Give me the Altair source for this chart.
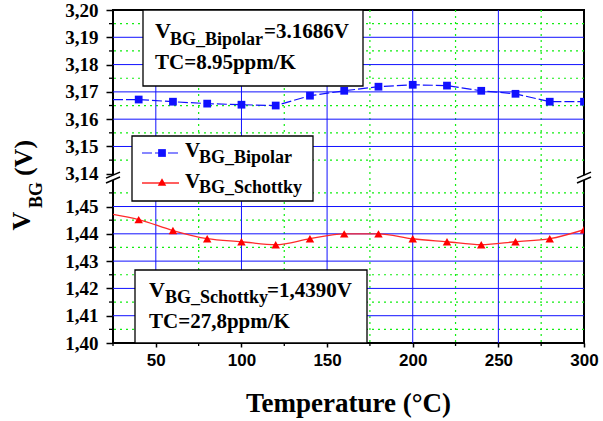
import altair as alt
import pandas as pd

# ---------------- data ----------------
temps = [40, 60, 80, 100, 120, 140, 160, 180, 200, 220, 240, 260, 280, 300]
bipolar = [3.1672, 3.1664, 3.1657, 3.1653, 3.1650, 3.1686, 3.1704, 3.1719,
           3.1726, 3.1723, 3.1704, 3.1693, 3.1664, 3.1664]
schottky = [1.4452, 1.4412, 1.4382, 1.4371, 1.4360, 1.4382, 1.4400, 1.4400,
            1.4382, 1.4371, 1.4360, 1.4371, 1.4382, 1.4415]
edge_T = 25
bipolar_edge = 3.1672
schottky_edge = 1.4471

lower_major = [1.40, 1.41, 1.42, 1.43, 1.44, 1.45]
upper_major = [3.14, 3.15, 3.16, 3.17, 3.18, 3.19, 3.20]
lower_minor = [1.405, 1.415, 1.425, 1.435, 1.445, 1.455]
upper_minor = [3.145, 3.155, 3.165, 3.175, 3.185, 3.195]
lower_grid = [1.41, 1.42, 1.43, 1.44, 1.45]
upper_grid = [3.15, 3.16, 3.17, 3.18, 3.19]
x_major = [50, 100, 150, 200, 250, 300]
x_minor = [25, 75, 125, 175, 225, 275]
x_grid_major = [50, 100, 150, 200, 250]
x_grid_minor = [75, 125, 175, 225, 275]

# broken axis: upper segment shifted down onto a continuous virtual scale
OFFSET = 3.14 - 1.462
BREAK = [1.4597, 1.4615]


def up(v):
    return v - OFFSET


W, H = 471, 333
xs = alt.Scale(domain=[25, 300], nice=False, zero=False)
ys = alt.Scale(domain=[1.40, up(3.20)], nice=False, zero=False)

ymaj = lower_major + [up(v) for v in upper_major]
ymin = lower_minor + [up(v) for v in upper_minor]
ygrid = lower_grid + [up(v) for v in upper_grid]

df_bip = pd.DataFrame({"T": temps, "v": [up(b) for b in bipolar]})
df_bip_line = pd.DataFrame({"T": [edge_T] + temps, "v": [up(bipolar_edge)] + [up(b) for b in bipolar]})
df_sch = pd.DataFrame({"T": temps, "v": schottky})
df_sch_line = pd.DataFrame({"T": [edge_T] + temps, "v": [schottky_edge] + schottky})

BLUE = "#1010ff"
RED = "#ff0000"
GREEN = "#11ee11"
SERIF = "Liberation Serif"

x_axis = alt.Axis(values=x_major, grid=False, domain=False, tickSize=4, tickWidth=1.5,
                  tickColor="black", labelFont="Liberation Sans", labelFontWeight="bold",
                  labelFontSize=17, labelPadding=5, labelColor="black", labelFlush=False,
                  labelOverlap=False, title=None)
y_axis = alt.Axis(values=ymaj, grid=False, domain=False, tickSize=7, tickWidth=1.5,
                  tickColor="black", labelFont=SERIF, labelFontWeight="bold",
                  labelFontSize=19, labelPadding=8, labelColor="black", labelFlush=False,
                  labelOverlap=False,
                  labelExpr="replace(format(datum.value > 1.456 ? datum.value + %f : datum.value, '.2f'), '.', ',')" % OFFSET,
                  title=None)


def X(field="T"):
    return alt.X(field, type="quantitative", scale=xs, axis=x_axis)


def Y(field="v"):
    return alt.Y(field, type="quantitative", scale=ys, axis=y_axis)


empty = alt.Data(values=[{}])


def txt(s, x, y, size, angle=0, font=SERIF):
    return alt.Chart(empty).mark_text(
        text=s, font=font, fontWeight="bold", fontSize=size, align="left" if angle == 0 else "center",
        baseline="alphabetic", angle=angle, color="black"
    ).encode(x=alt.value(x), y=alt.value(y))


def box(x1, x2, y1, y2):
    return alt.Chart(empty).mark_rect(fill="white", stroke="black", strokeWidth=1.3).encode(
        x=alt.value(x1), x2=alt.value(x2), y=alt.value(y1), y2=alt.value(y2))


# grids
vgrid_major = alt.Chart(pd.DataFrame({"T": x_grid_major})).mark_rule(color=BLUE, strokeWidth=1).encode(x=X())
vgrid_minor = alt.Chart(pd.DataFrame({"T": x_grid_minor})).mark_rule(
    color=GREEN, strokeWidth=1.2, strokeDash=[2, 4]).encode(x=X())
hgrid_major = alt.Chart(pd.DataFrame({"v": ygrid})).mark_rule(color=BLUE, strokeWidth=1).encode(y=Y())
hgrid_minor = alt.Chart(pd.DataFrame({"v": ymin})).mark_rule(
    color=GREEN, strokeWidth=1.2, strokeDash=[2, 4]).encode(y=Y())

# minor ticks
y_minor_ticks = alt.Chart(pd.DataFrame({"v": ymin})).mark_rule(color="black", strokeWidth=1.3).encode(
    y=Y(), x=alt.value(-4), x2=alt.value(0))
x_minor_ticks = alt.Chart(pd.DataFrame({"T": x_minor})).mark_rule(color="black", strokeWidth=1.3).encode(
    x=X(), y=alt.value(H), y2=alt.value(H + 3))

# data
bip_line = alt.Chart(df_bip_line).mark_line(color=BLUE, strokeWidth=1.2, strokeDash=[10, 3], clip=True).encode(
    x=X(), y=Y())
bip_pts = alt.Chart(df_bip).mark_point(shape="square", filled=True, size=60, color=BLUE, opacity=1, clip=True).encode(
    x=X(), y=Y())
sch_line = alt.Chart(df_sch_line).mark_line(color="#ff2a2a", strokeWidth=1.3, interpolate="monotone", clip=True).encode(
    x=X(), y=Y())
sch_pts = alt.Chart(df_sch).mark_point(shape="triangle-up", filled=True, size=72, color=RED, opacity=1, clip=True).encode(
    x=X(), y=Y())

# axis break marks
brk_edges = pd.DataFrame({"T": [25, 300], "lo": [BREAK[0]] * 2, "hi": [BREAK[1]] * 2})
brk_white = alt.Chart(brk_edges).mark_rule(color="white", strokeWidth=6).encode(
    x=X(), y=Y("lo"), y2="hi")
brk_slash = alt.Chart(pd.DataFrame({"T": [25, 25, 300, 300], "v": BREAK + BREAK})).mark_rule(
    color="black", strokeWidth=1.6, xOffset=-7, x2Offset=7, yOffset=3, y2Offset=-3).encode(
    x=X(), x2="T", y=Y(), y2="v")

layers = [
    vgrid_minor, hgrid_minor, vgrid_major, hgrid_major,
    bip_line, bip_pts, sch_line, sch_pts,
    y_minor_ticks, x_minor_ticks, brk_white, brk_slash,
    # annotation box 1
    box(30, 250, 0, 76),
    txt("V", 42, 28, 22), txt("BG_Bipolar", 57, 35, 18), txt("=3.1686V", 151, 28, 21),
    txt("TC=8.95ppm/K", 42, 59, 21),
    # legend
    box(19, 200, 126, 191),
    alt.Chart(empty).mark_rule(color=BLUE, strokeWidth=1.2, strokeDash=[10, 3]).encode(
        x=alt.value(29), x2=alt.value(66), y=alt.value(143)),
    alt.Chart(empty).mark_point(shape="square", filled=True, size=60, color=BLUE, opacity=1).encode(
        x=alt.value(49), y=alt.value(143)),
    txt("V", 72, 147, 21), txt("BG_Bipolar", 86, 153, 18),
    alt.Chart(empty).mark_rule(color="#ff2a2a", strokeWidth=1.3).encode(
        x=alt.value(29), x2=alt.value(66), y=alt.value(173)),
    alt.Chart(empty).mark_point(shape="triangle-up", filled=True, size=72, color=RED, opacity=1).encode(
        x=alt.value(49), y=alt.value(172)),
    txt("V", 72, 178, 21), txt("BG_Schottky", 86, 183, 18),
    # annotation box 3
    box(22, 254, 260, 333),
    txt("V", 36, 287, 22), txt("BG_Schottky", 52, 293, 18), txt("=1,4390V", 154, 287, 21),
    txt("TC=27,8ppm/K", 36, 318, 21),
    # axis titles
    alt.Chart(empty).mark_text(text="Temperature (°C)", font=SERIF, fontWeight="bold", fontSize=27,
                               align="center", baseline="alphabetic", color="black").encode(
        x=alt.value(W / 2), y=alt.value(402)),
    txt("V", -83, 211, 26, angle=270),
    txt("BG", -71, 185, 18, angle=270),
    txt("(V)", -81, 148, 26, angle=270),
]

chart = alt.layer(*layers).properties(
    width=W, height=H,
    autosize=alt.AutoSizeParams(type="none"),
    padding={"left": 113, "top": 10, "right": 19, "bottom": 78},
    background="white",
).configure_view(stroke="black", strokeWidth=2)

chart.save("out.html", embed_options={"renderer": "svg", "actions": False})
